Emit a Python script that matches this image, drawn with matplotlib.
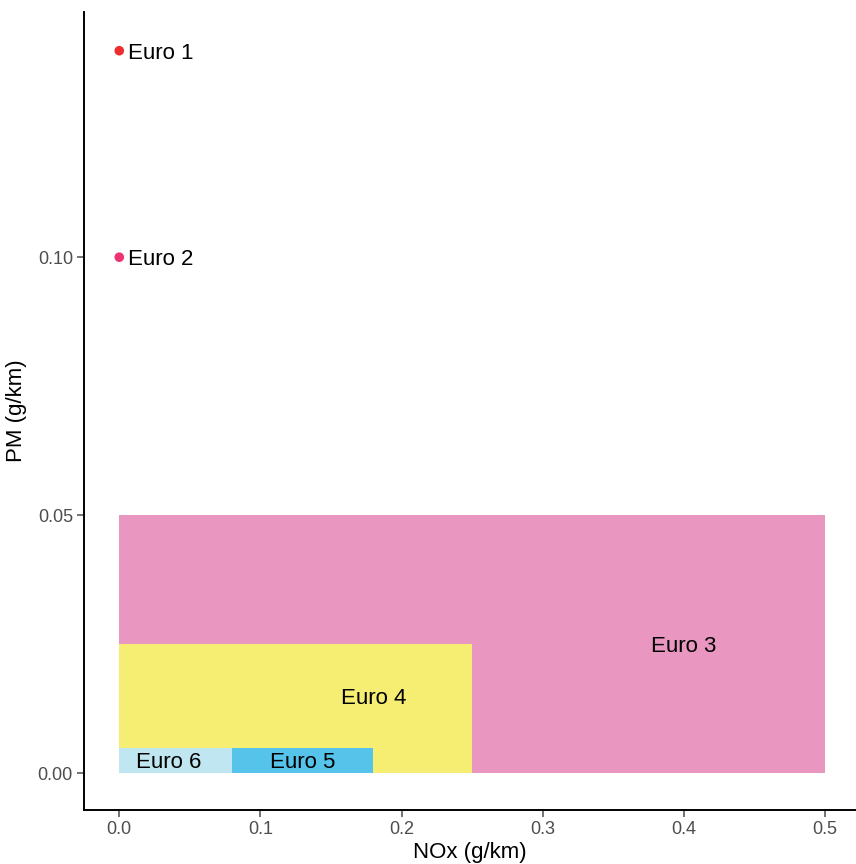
import matplotlib
matplotlib.use("Agg")
import matplotlib.pyplot as plt

plt.rcParams['font.family'] = ['Liberation Sans', 'DejaVu Sans']

# Rectangles (standards as boxes)
rect_names = ["Euro 3", "Euro 4", "Euro 5", "Euro 6"]
rect_xmin = [0.0, 0.0, 0.08, 0.0]
rect_xmax = [0.5, 0.25, 0.18, 0.08]
rect_ymax = [0.05, 0.025, 0.005, 0.005]
rect_colors = ["#E996C0", "#F5EE73", "#56C3EA", "#BFE6F1"]
rect_label_x = [0.40, 0.18, 0.13, 0.035]
rect_label_y = [0.025, 0.015, 0.0025, 0.0025]

# Points
pt_names = ["Euro 1", "Euro 2"]
pt_x = [0.0, 0.0]
pt_y = [0.14, 0.10]
pt_colors = ["#EE2E2E", "#EE3470"]

xticks = [0.0, 0.1, 0.2, 0.3, 0.4, 0.5]
xticklabels = ["0.0", "0.1", "0.2", "0.3", "0.4", "0.5"]
yticks = [0.00, 0.05, 0.10]
yticklabels = ["0.00", "0.05", "0.10"]

fig = plt.figure(figsize=(8.56, 8.64), dpi=100)
ax = fig.add_axes([84/856, 1 - 810/864, (856-84)/856, (810-12)/864])

widths = [b - a for a, b in zip(rect_xmin, rect_xmax)]
ax.bar(rect_xmin, rect_ymax, width=widths, bottom=0, align='edge',
       color=rect_colors, edgecolor='none', linewidth=0)
for n, lx, ly in zip(rect_names, rect_label_x, rect_label_y):
    ax.text(lx, ly, n, ha='center', va='center_baseline', fontsize=16, color='black')

ax.scatter(pt_x, pt_y, s=48, c=pt_colors, edgecolors='none', zorder=3)
for n, x, y in zip(pt_names, pt_x, pt_y):
    ax.text(x + 0.0065, y, n, ha='left', va='center_baseline', fontsize=16, color='black')

ax.set_xlim(-0.025, 0.522)
ax.set_ylim(-0.0071, 0.1475)
ax.set_xticks(xticks)
ax.set_xticklabels(xticklabels)
ax.set_yticks(yticks)
ax.set_yticklabels(yticklabels)
ax.tick_params(axis='both', labelsize=13, colors='#4D4D4D', length=5, width=1.1, pad=3)
for s in ['top', 'right']:
    ax.spines[s].set_visible(False)
for s in ['left', 'bottom']:
    ax.spines[s].set_linewidth(1.4)
    ax.spines[s].set_color('black')
ax.set_xlabel("NOx (g/km)", fontsize=16, labelpad=2.5)
ax.set_ylabel("PM (g/km)", fontsize=16, labelpad=8)

fig.savefig("out.png", dpi=100)
